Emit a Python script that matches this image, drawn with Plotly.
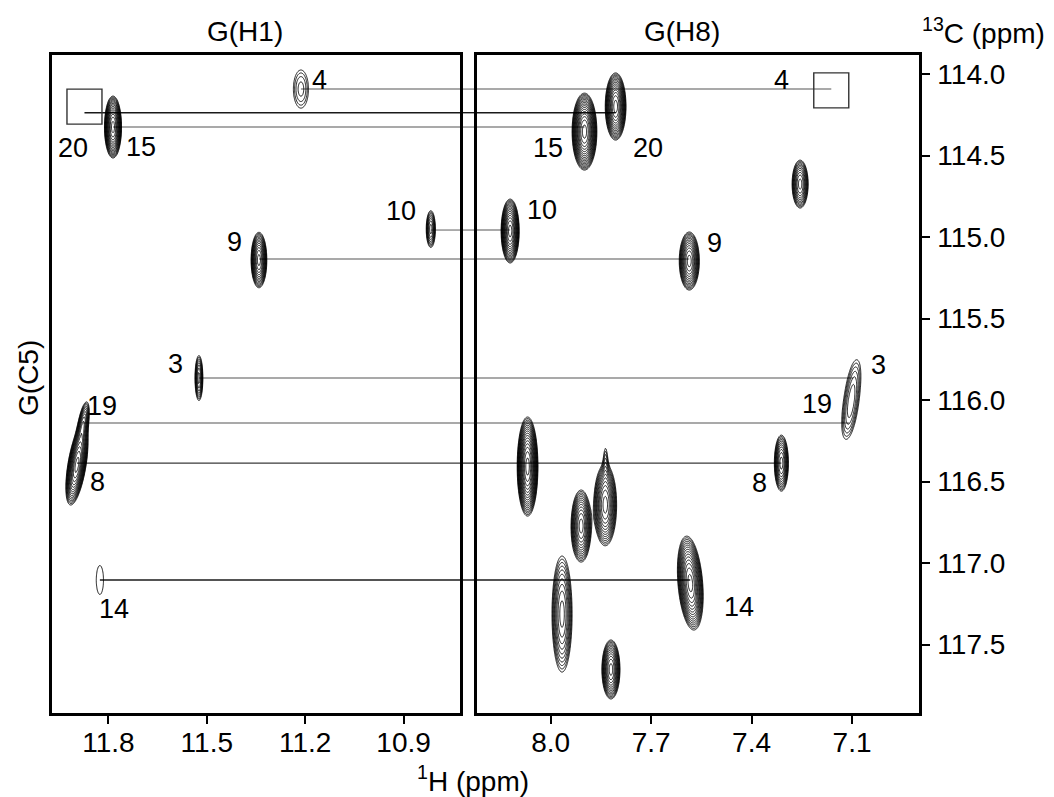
import numpy as np
import plotly.graph_objects as go

# ---------------- data ----------------
# Resonance assignments: guanine residue, C5 shift, imino H1 and H8 shifts (ppm).
residues = [3, 4, 8, 9, 10, 14, 15, 19, 20]
c5_ppm = [115.865, 114.092, 116.387, 115.135, 114.957, 117.104, 114.325, 116.141, 114.237]
h1_ppm = [11.524, 11.213, 11.896, 11.341, 10.817, 11.826, 11.786, 11.877, None]
h8_ppm = [7.096, None, 7.311, 7.586, 8.121, 7.583, 7.899, 7.108, 7.806]

# Expected but unobserved cross peaks (drawn as open squares)
missing_residue = [20, 4]
missing_panel = ["H1", "H8"]
missing_h = [11.873, 7.162]
missing_c = [114.20, 114.10]

# Cross peaks of the G(H1)-C5 region: 1H, 13C, half-widths (ppm), contour count, tilt
h1_peak_h = [11.213, 11.786, 10.817, 11.341, 11.524, 11.877, 11.896, 11.826]
h1_peak_c = [114.092, 114.325, 114.951, 115.141, 115.865, 116.147, 116.399, 117.104]
h1_peak_wh = [0.023, 0.026, 0.014, 0.024, 0.012, 0.015, 0.028, 0.011]
h1_peak_wc = [0.117, 0.19, 0.113, 0.17, 0.138, 0.135, 0.245, 0.089]
h1_peak_n = [3, 14, 7, 12, 7, 8, 14, 0.5]
h1_peak_tilt = [0, 0, 0, 0, 0, 0.077, 0.077, 0]

# Cross peaks of the G(H8)-C5 region
h8_peak_h = [7.806, 7.899, 7.255, 8.121, 7.586, 7.096, 7.108, 8.069, 7.311,
             7.909, 7.837, 7.836, 7.583, 7.966, 7.820]
h8_peak_c = [114.199, 114.353, 114.675, 114.963, 115.147, 115.908, 116.092, 116.408, 116.387,
             116.773, 116.644, 116.38, 117.123, 117.313, 117.653]
h8_peak_wh = [0.031, 0.037, 0.024, 0.027, 0.030, 0.018, 0.018, 0.031, 0.021,
              0.030, 0.034, 0.004, 0.037, 0.030, 0.027]
h8_peak_wc = [0.206, 0.236, 0.147, 0.196, 0.178, 0.15, 0.14, 0.304, 0.172,
              0.221, 0.25, 0.07, 0.288, 0.356, 0.181]
h8_peak_n = [14, 16, 10, 14, 12, 3, 3, 16, 10, 12, 12, 1, 14, 9, 12]
h8_peak_tilt = [0, 0, 0, 0, 0, 0.064, 0.064, 0, 0, 0, 0, 0, -0.037, 0, 0]

h1_ticks = [11.8, 11.5, 11.2, 10.9]
h8_ticks = [8.0, 7.7, 7.4, 7.1]
c_ticks = [114.0, 114.5, 115.0, 115.5, 116.0, 116.5, 117.0, 117.5]

# ---------------- layout constants ----------------
W, H = 1054, 797
MT, MB = 55, 84
H1_RANGE = [11.972, 10.728]
H8_RANGE = [8.22, 6.90]
C_RANGE = [117.92, 113.883]
DOM_L = [52 / W, 460 / W]
DOM_R = [477 / W, 919 / W]
FONT = "Liberation Sans, Arial, Helvetica, sans-serif"
LEVEL_RATIO = 1.2
N_LEVELS = 26


def spectrum(h_axis, c_axis, hs, cs, whs, wcs, ns, tilts):
    """Sum of 2D Gaussian line shapes, returned on a log scale so that
    evenly spaced contours correspond to geometric intensity levels."""
    X, Y = np.meshgrid(h_axis, c_axis)
    S = np.zeros_like(X)
    for h, c, wh, wc, n, t in zip(hs, cs, whs, wcs, ns, tilts):
        amp = LEVEL_RATIO ** (n + 0.5)
        k = np.sqrt(2 * np.log(amp))
        sx, sy = wh / k, wc / k
        xc = h + t * (Y - c)
        S += amp * np.exp(-0.5 * (((X - xc) / sx) ** 2 + ((Y - c) / sy) ** 2))
    return np.log(S + 1e-4).astype(np.float32)


c_axis = np.arange(113.86, 117.94, 0.005)
h1_axis = np.arange(10.70, 12.00, 0.003)
h8_axis = np.arange(6.88, 8.24, 0.003)

z_h1 = spectrum(h1_axis, c_axis, h1_peak_h, h1_peak_c, h1_peak_wh, h1_peak_wc, h1_peak_n, h1_peak_tilt)
z_h8 = spectrum(h8_axis, c_axis, h8_peak_h, h8_peak_c, h8_peak_wh, h8_peak_wc, h8_peak_n, h8_peak_tilt)

contour_style = dict(
    autocontour=False,
    contours=dict(start=0.0, end=np.log(LEVEL_RATIO) * N_LEVELS, size=np.log(LEVEL_RATIO),
                  coloring="lines", showlabels=False),
    line=dict(width=0.9, color="black", smoothing=0.6),
    colorscale=[[0, "black"], [1, "black"]],
    showscale=False,
    hoverinfo="skip",
)

fig = go.Figure()
fig.add_trace(go.Contour(x=h1_axis, y=c_axis, z=z_h1, xaxis="x", yaxis="y", **contour_style))
fig.add_trace(go.Contour(x=h8_axis, y=c_axis, z=z_h8, xaxis="x2", yaxis="y2", **contour_style))

# ---------------- connecting lines between the two regions ----------------
link_color = {20: "#1a1a1a", 8: "#3a3a3a", 14: "#1a1a1a"}
shapes = []
miss = {(r, p): (h, c) for r, p, h, c in zip(missing_residue, missing_panel, missing_h, missing_c)}
for res, c, h1, h8 in zip(residues, c5_ppm, h1_ppm, h8_ppm):
    xl = h1 if h1 is not None else miss[(res, "H1")][0]
    xr = h8 if h8 is not None else miss[(res, "H8")][0]
    col = link_color.get(res, "#8c8c8c")
    ln = dict(color=col, width=1.4)
    shapes.append(dict(type="line", xref="x", yref="y", x0=xl, x1=H1_RANGE[1], y0=c, y1=c,
                       line=ln, layer="below"))
    shapes.append(dict(type="line", xref="paper", yref="y", x0=DOM_L[1], x1=DOM_R[0], y0=c, y1=c,
                       line=ln, layer="below"))
    shapes.append(dict(type="line", xref="x2", yref="y2", x0=H8_RANGE[0], x1=xr, y0=c, y1=c,
                       line=ln, layer="below"))

# open squares for missing peaks
for r, p, h, c in zip(missing_residue, missing_panel, missing_h, missing_c):
    xa, ya = ("x", "y") if p == "H1" else ("x2", "y2")
    shapes.append(dict(type="rect", xref=xa, yref=ya, xsizemode="pixel", ysizemode="pixel",
                       xanchor=h, yanchor=c, x0=-17.5, x1=17.5, y0=-17.5, y1=17.5,
                       line=dict(color="#333333", width=1.4)))

# ---------------- peak labels ----------------
label_off_h1 = {3: (-23, -14), 4: (19, -9), 8: (21, 19), 9: (-24, -17), 10: (-30, -19),
                14: (14, 29), 15: (28, 20), 19: (19, -17), 20: (-11, 35)}
label_off_h8 = {3: (25, -13), 4: (-50, -9), 8: (-22, 20), 9: (25, -16), 10: (32, -20),
                14: (49, 27), 15: (-36, 21), 19: (-32, -19), 20: (32, 35)}
annotations = []
for res, c, h1, h8 in zip(residues, c5_ppm, h1_ppm, h8_ppm):
    xl = h1 if h1 is not None else miss[(res, "H1")][0]
    xr = h8 if h8 is not None else miss[(res, "H8")][0]
    for xa, ya, xv, off in (("x", "y", xl, label_off_h1[res]), ("x2", "y2", xr, label_off_h8[res])):
        annotations.append(dict(x=xv, y=c, xref=xa, yref=ya, text=str(res), showarrow=False,
                                xanchor="center", yanchor="middle",
                                xshift=off[0], yshift=-off[1],
                                font=dict(size=27, color="black", family=FONT)))


def paper_text(px, py, text, angle=0):
    """Text placed by its pixel centre; paper y is measured over the plot area."""
    return dict(x=px / W, y=(H - MB - py) / (H - MT - MB), xref="paper", yref="paper",
                xanchor="center", yanchor="middle", text=text, textangle=angle,
                showarrow=False, font=dict(size=28, color="black", family=FONT))


annotations += [
    paper_text(245, 31, "G(H1)"),
    paper_text(682, 31, "G(H8)"),
    paper_text(983, 31, "<sup>13</sup>C (ppm)"),
    paper_text(473, 779, "<sup>1</sup>H (ppm)"),
    paper_text(28, 378, "G(C5)", angle=-90),
]

axis_common = dict(showline=True, mirror=True, linewidth=2.5, linecolor="black",
                   showgrid=False, zeroline=False, ticks="outside", ticklen=8, tickwidth=2,
                   tickcolor="black", tickformat=".1f",
                   tickfont=dict(size=28, color="black", family=FONT))

fig.update_layout(
    width=W, height=H,
    margin=dict(l=0, r=0, t=MT, b=MB),
    paper_bgcolor="white", plot_bgcolor="white",
    showlegend=False,
    xaxis=dict(domain=DOM_L, range=H1_RANGE, tickvals=h1_ticks, anchor="y",
               ticklabelstandoff=-5, **axis_common),
    xaxis2=dict(domain=DOM_R, range=H8_RANGE, tickvals=h8_ticks, anchor="y2",
                ticklabelstandoff=-5, **axis_common),
    yaxis=dict(domain=[0, 1], range=C_RANGE, anchor="x", showline=True, mirror=True, linewidth=2.5,
               linecolor="black", showgrid=False, zeroline=False, showticklabels=False, ticks=""),
    yaxis2=dict(domain=[0, 1], range=C_RANGE, anchor="x2", side="right", matches="y",
                tickvals=c_ticks, ticklabelstandoff=2, **axis_common),
    shapes=shapes,
    annotations=annotations,
)

fig.write_html("out.html")
